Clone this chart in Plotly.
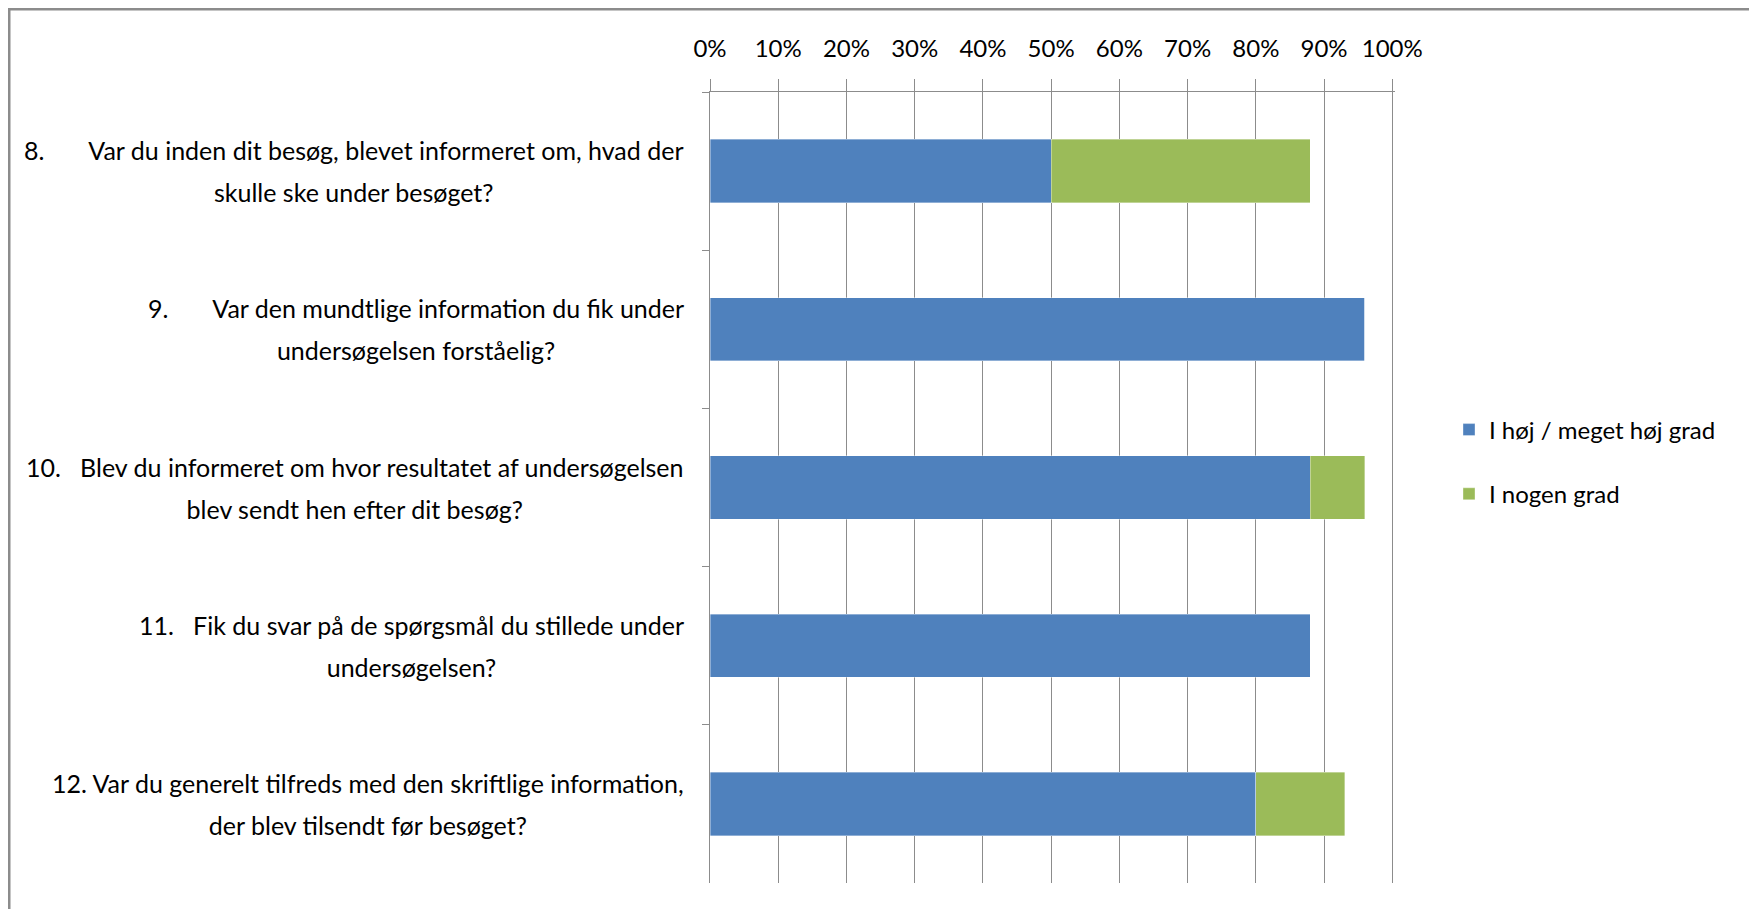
import plotly.graph_objects as go

# Survey answers, share of respondents per question
questions = [
    "8.\u00a0\u00a0\u00a0\u00a0\u00a0\u00a0\u00a0Var du inden dit besøg, blevet informeret om, hvad der<br>skulle ske under besøget?",
    "9.\u00a0\u00a0\u00a0\u00a0\u00a0\u00a0\u00a0Var den mundtlige information du fik under<br>undersøgelsen forståelig?",
    "10.\u00a0\u00a0\u00a0Blev du informeret om hvor resultatet af undersøgelsen<br>blev sendt hen efter dit besøg?",
    "11.\u00a0\u00a0\u00a0Fik du svar på de spørgsmål du stillede under<br>undersøgelsen?",
    "12. Var du generelt tilfreds med den skriftlige information,<br>der blev tilsendt før besøget?",
]
high = [0.50, 0.96, 0.88, 0.88, 0.80]
some = [0.38, 0.00, 0.08, 0.00, 0.13]
series_names = ["I høj / meget høj grad", "I nogen grad"]
colors = ["#4f81bd", "#9bbb59"]
x_ticks = [i / 10 for i in range(11)]

FONT = "Lato, Carlito, Calibri, sans-serif"
# the page body adds an 8px margin, so the figure is 8px smaller than the window
W, H = 1749, 901
L, R, T, B = 702, 362, 84, 26


def px_x(v):
    return (v - L) / (W - L - R)


def px_y(v):
    return 1 - (v - T) / (H - T - B)


fig = go.Figure()
for i, (name, vals) in enumerate(zip(series_names, [high, some])):
    fig.add_trace(go.Bar(
        y=questions,
        x=vals,
        name=name,
        orientation='h',
        marker=dict(color=colors[i], line=dict(width=0.6, color='rgba(255,255,255,0.6)')),
        legendgroup=str(i),
    ))

# question labels: first line right-aligned, second line centred
# (outer font size sets the line spacing, inner span the glyph size)
span = '<span style="font-size:25px">'
for q in questions:
    fig.add_annotation(
        x=px_x(678), xref='paper', xanchor='right',
        y=q, yref='y', yanchor='middle',
        text=span + q.replace('<br>', '</span><br>' + span) + '</span>',
        showarrow=False, align='center',
        font=dict(family=FONT, size=32, color='black'),
    )

# window frame
fig.add_shape(type='rect', xref='paper', yref='paper',
              x0=px_x(1), x1=px_x(1743.5), y0=px_y(1), y1=px_y(940),
              line=dict(color='#8c8c8c', width=3), fillcolor='white', layer='below')

fig.update_layout(
    width=W, height=H,
    barmode='stack',
    bargap=0.6,
    paper_bgcolor='#abc4ea',
    plot_bgcolor='white',
    margin=dict(l=L, r=R, t=T, b=B, pad=0, autoexpand=False),
    font=dict(family=FONT, size=24, color='black'),
    xaxis=dict(
        side='top', range=[0, 1.004], tickvals=x_ticks, tickformat='.0%',
        showgrid=True, gridcolor='#8c8c8c', gridwidth=1,
        showline=True, linecolor='#8c8c8c', linewidth=1,
        ticks='outside', ticklen=12, tickcolor='#8c8c8c', ticklabelstandoff=12,
        tickfont=dict(family=FONT, size=24, color='black'),
        zeroline=False, fixedrange=True,
    ),
    yaxis=dict(
        autorange='reversed', showticklabels=False,
        showline=True, linecolor='#8c8c8c', linewidth=1,
        ticks='outside', ticklen=7, tickcolor='#8c8c8c', tickson='boundaries',
        showgrid=False,
    ),
    legend=dict(
        x=px_x(1441), y=px_y(454), xanchor='left', yanchor='middle',
        traceorder='grouped', tracegroupgap=30,
        font=dict(family=FONT, size=24, color='black'),
        bgcolor='rgba(0,0,0,0)',
    ),
    showlegend=True,
)

fig.write_html("out.html")
